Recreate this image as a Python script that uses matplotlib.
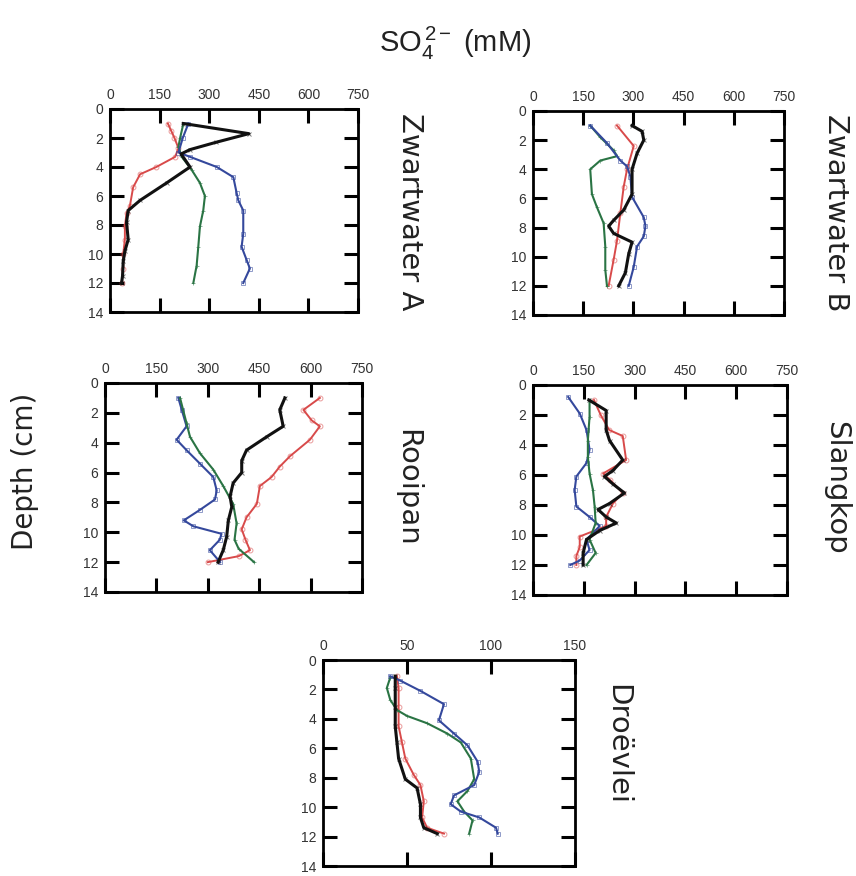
#!/usr/bin/env python3
"""Sulphate depth profiles for five sites, four cores each."""
import matplotlib
matplotlib.use("Agg")
import matplotlib.pyplot as plt

plt.rcParams["font.family"] = ["Liberation Sans", "DejaVu Sans"]
plt.rcParams["mathtext.fontset"] = "custom"
plt.rcParams["mathtext.rm"] = "Liberation Sans"
plt.rcParams["mathtext.it"] = "Liberation Sans:italic"

# Zwartwater A
zwa_red_d = [1, 1.5, 2, 2.7, 3.3, 4.0, 4.5, 5.4, 6.7, 7.2, 8.1, 9.0, 10.0, 11.0, 12.0]
zwa_red = [175, 185, 195, 207, 197, 140, 91, 70, 60, 50, 45, 45, 40, 40, 35]
zwa_blk_d = [1, 1.7, 2.3, 2.8, 3.1, 4.0, 5.1, 6.3, 7.0, 7.8, 9.0, 9.8, 10.5, 11.5, 12.0]
zwa_blk = [222, 420, 320, 242, 215, 242, 171, 91, 55, 50, 55, 45, 40, 38, 35]
zwa_grn_d = [1, 2.0, 2.6, 3.3, 4.2, 5.1, 6.0, 7.0, 8.1, 9.5, 10.8, 12.0]
zwa_grn = [222, 212, 207, 217, 247, 272, 287, 282, 272, 267, 262, 252]
zwa_blu_d = [1, 2.0, 3.0, 3.3, 4.0, 4.7, 5.8, 6.3, 7.0, 8.6, 9.5, 10.4, 11.0, 12.0]
zwa_blu = [237, 220, 207, 242, 323, 373, 383, 388, 403, 403, 398, 413, 423, 403]

# Zwartwater B
zwb_red_d = [1, 2.4, 4.0, 5.2, 7.0, 8.9, 10.2, 12.0]
zwb_red = [251, 301, 281, 271, 261, 251, 241, 226]
zwb_blk_d = [1, 1.4, 2.0, 2.9, 4.0, 5.7, 6.8, 7.5, 7.9, 8.4, 9.0, 9.8, 11.1, 12.0]
zwb_blk = [296, 326, 331, 311, 296, 296, 271, 241, 226, 241, 296, 286, 276, 256]
zwb_grn_d = [1, 1.8, 2.7, 3.1, 3.4, 4.0, 5.7, 6.6, 7.7, 9.3, 10.9, 12.0]
zwb_grn = [171, 201, 241, 251, 201, 171, 176, 191, 211, 216, 216, 221]
zwb_blu_d = [1, 2.2, 3.4, 3.8, 4.5, 5.9, 7.3, 7.9, 8.6, 9.3, 10.7, 12.0]
zwb_blu = [171, 221, 261, 281, 291, 296, 331, 336, 331, 311, 301, 286]

# Rooipan
rp_red_d = [1, 1.8, 2.5, 2.9, 3.8, 4.9, 5.6, 6.3, 6.9, 8.1, 9.0, 9.8, 10.5, 11.2, 11.6, 12.0]
rp_red = [627, 579, 603, 627, 598, 540, 510, 486, 452, 443, 413, 399, 410, 423, 390, 300]
rp_blk_d = [1, 1.8, 2.9, 3.6, 4.5, 5.2, 6.0, 6.7, 7.6, 8.3, 9.2, 10.3, 11.2, 12.0]
rp_blk = [525, 510, 520, 472, 413, 399, 399, 374, 365, 370, 360, 355, 345, 330]
rp_grn_d = [1, 2.7, 3.6, 4.7, 5.8, 6.9, 8.1, 9.4, 10.5, 11.1, 12.0]
rp_grn = [219, 238, 248, 277, 316, 345, 374, 384, 378, 390, 435]
rp_blu_d = [1, 1.8, 2.9, 3.8, 4.5, 5.4, 6.3, 7.2, 7.8, 8.5, 9.2, 9.6, 10.1, 10.5, 11.2, 12.0]
rp_blu = [214, 224, 238, 209, 238, 277, 316, 326, 321, 277, 230, 258, 340, 335, 306, 336]

# Slangkop
sk_red_d = [1, 2, 3, 3.4, 5.0, 5.9, 6.3, 7.2, 7.9, 8.8, 9.4, 10.1, 10.8, 11.4, 12.0]
sk_red = [180, 200, 225, 265, 275, 207, 226, 265, 236, 216, 216, 138, 138, 128, 128]
sk_blk_d = [1.0, 1.7, 3.0, 3.7, 5.0, 5.7, 6.1, 6.6, 7.2, 7.9, 8.3, 8.8, 9.2, 9.7, 10.3, 11.2, 12.0]
sk_blk = [165, 216, 216, 226, 265, 236, 211, 236, 270, 226, 192, 216, 246, 197, 158, 148, 148]
sk_grn_d = [1.0, 2.1, 3.7, 4.8, 5.9, 7.0, 8.1, 9.2, 10.3, 11.2, 12.0]
sk_grn = [167, 167, 162, 162, 167, 177, 182, 185, 167, 185, 158]
sk_blu_d = [0.8, 1.9, 3.0, 4.3, 5.2, 6.1, 7.0, 8.1, 8.8, 9.4, 10.3, 11.0, 11.7, 12.0]
sk_blu = [104, 138, 158, 167, 158, 128, 123, 128, 167, 197, 158, 167, 138, 110]

# Droevlei (0-150 mM scale)
dv_red_d = [1.1, 1.9, 3.2, 4.5, 5.6, 6.7, 7.8, 8.5, 9.6, 10.7, 11.4, 11.8]
dv_red = [44, 45, 45, 45, 47, 49, 54, 58, 60, 59, 62, 72]
dv_blk_d = [1.1, 1.9, 3.2, 4.5, 5.6, 6.7, 8.1, 8.7, 9.8, 10.7, 11.4, 11.8]
dv_blk = [43, 43, 43, 43, 44, 45, 49, 56, 58, 58, 60, 68]
dv_grn_d = [1.2, 1.9, 2.7, 3.4, 3.8, 4.3, 5.0, 5.6, 6.7, 8.1, 8.9, 9.6, 10.3, 10.9, 11.8]
dv_grn = [40, 38, 40, 44, 50, 62, 74, 82, 88, 90, 86, 80, 84, 89, 87]
dv_blu_d = [1.1, 1.4, 2.1, 3.0, 4.1, 5.0, 5.8, 6.9, 7.6, 8.5, 9.2, 9.8, 10.3, 10.7, 11.4, 11.8]
dv_blu = [40, 46, 58, 72, 69, 78, 86, 92, 93, 90, 78, 76, 82, 93, 103, 104]

site_names = ["Zwartwater A", "Zwartwater B", "Rooipan", "Slangkop", "Droëvlei"]
depth_ticks = [0, 2, 4, 6, 8, 10, 12, 14]
wide_ticks = [0, 150, 300, 450, 600, 750]
narrow_ticks = [0, 50, 100, 150]

# series style: colour, marker, line width
styles = {
    "red": ("#d84a4a", "o", 1.4),
    "blu": ("#34489c", "s", 1.5),
    "grn": ("#2a7444", "+", 1.5),
    "blk": ("#111111", "x", 2.2),
}

panels = [
    # name, pixel box (left, top, right, bottom), xticks, series
    (site_names[0], (110, 109, 358, 312), wide_ticks,
     [("red", zwa_red_d, zwa_red), ("grn", zwa_grn_d, zwa_grn),
      ("blu", zwa_blu_d, zwa_blu), ("blk", zwa_blk_d, zwa_blk)]),
    (site_names[1], (533, 111, 784, 315), wide_ticks,
     [("red", zwb_red_d, zwb_red), ("grn", zwb_grn_d, zwb_grn),
      ("blu", zwb_blu_d, zwb_blu), ("blk", zwb_blk_d, zwb_blk)]),
    (site_names[2], (105, 383, 362, 592), wide_ticks,
     [("red", rp_red_d, rp_red), ("blu", rp_blu_d, rp_blu),
      ("grn", rp_grn_d, rp_grn), ("blk", rp_blk_d, rp_blk)]),
    (site_names[3], (533, 385, 787, 595), wide_ticks,
     [("red", sk_red_d, sk_red), ("blu", sk_blu_d, sk_blu),
      ("grn", sk_grn_d, sk_grn), ("blk", sk_blk_d, sk_blk)]),
    (site_names[4], (323, 660, 575, 866), narrow_ticks,
     [("red", dv_red_d, dv_red), ("blk", dv_blk_d, dv_blk),
      ("grn", dv_grn_d, dv_grn), ("blu", dv_blu_d, dv_blu)]),
]
label_pos = [(410, 212), (836, 213), (407, 488), (836, 488), (617, 745)]

W, H = 856, 876
fig = plt.figure(figsize=(W / 100, H / 100), dpi=100)

for (name, box, xt, series), (lx, ly) in zip(panels, label_pos):
    l, t, r, b = box
    ax = fig.add_axes([l / W, 1 - b / H, (r - l) / W, (b - t) / H])
    for key, d, v in series:
        col, mk, lw = styles[key]
        z = 3 if key == "blk" else 2
        ax.plot(v, d, color=col, lw=lw, zorder=z)
        ax.plot(v, d, ls="none", marker=mk, ms=3.5, mfc="none", mec=col,
                mew=0.7, alpha=0.55, zorder=z)
    ax.set_xlim(xt[0], xt[-1])
    ax.set_ylim(14, 0)
    ax.set_xticks(xt)
    ax.set_yticks(depth_ticks)
    ax.xaxis.tick_top()
    ax.tick_params(axis="both", which="major", direction="in", length=10,
                   width=2.2, labelsize=10, labelcolor="#333333",
                   top=True, bottom=True, left=True, right=True, pad=5)
    ax.tick_params(axis="x", labeltop=True, labelbottom=False)
    for s in ax.spines.values():
        s.set_linewidth(2.0)
    fig.text(lx / W, 1 - ly / H, name, rotation=-90, ha="center", va="center",
             fontsize=21, family="DejaVu Sans", color="#222222")

fig.text(25 / W, 1 - 471 / H, "Depth (cm)", rotation=90, ha="center",
         va="center", fontsize=20, family="DejaVu Sans", color="#222222")
fig.text(455 / W, 1 - 43 / H, r"$\mathrm{SO_4^{\,2-}}$ (mM)", ha="center",
         va="center", fontsize=21, color="#222222")

fig.savefig("out.png", dpi=100, facecolor="white")
